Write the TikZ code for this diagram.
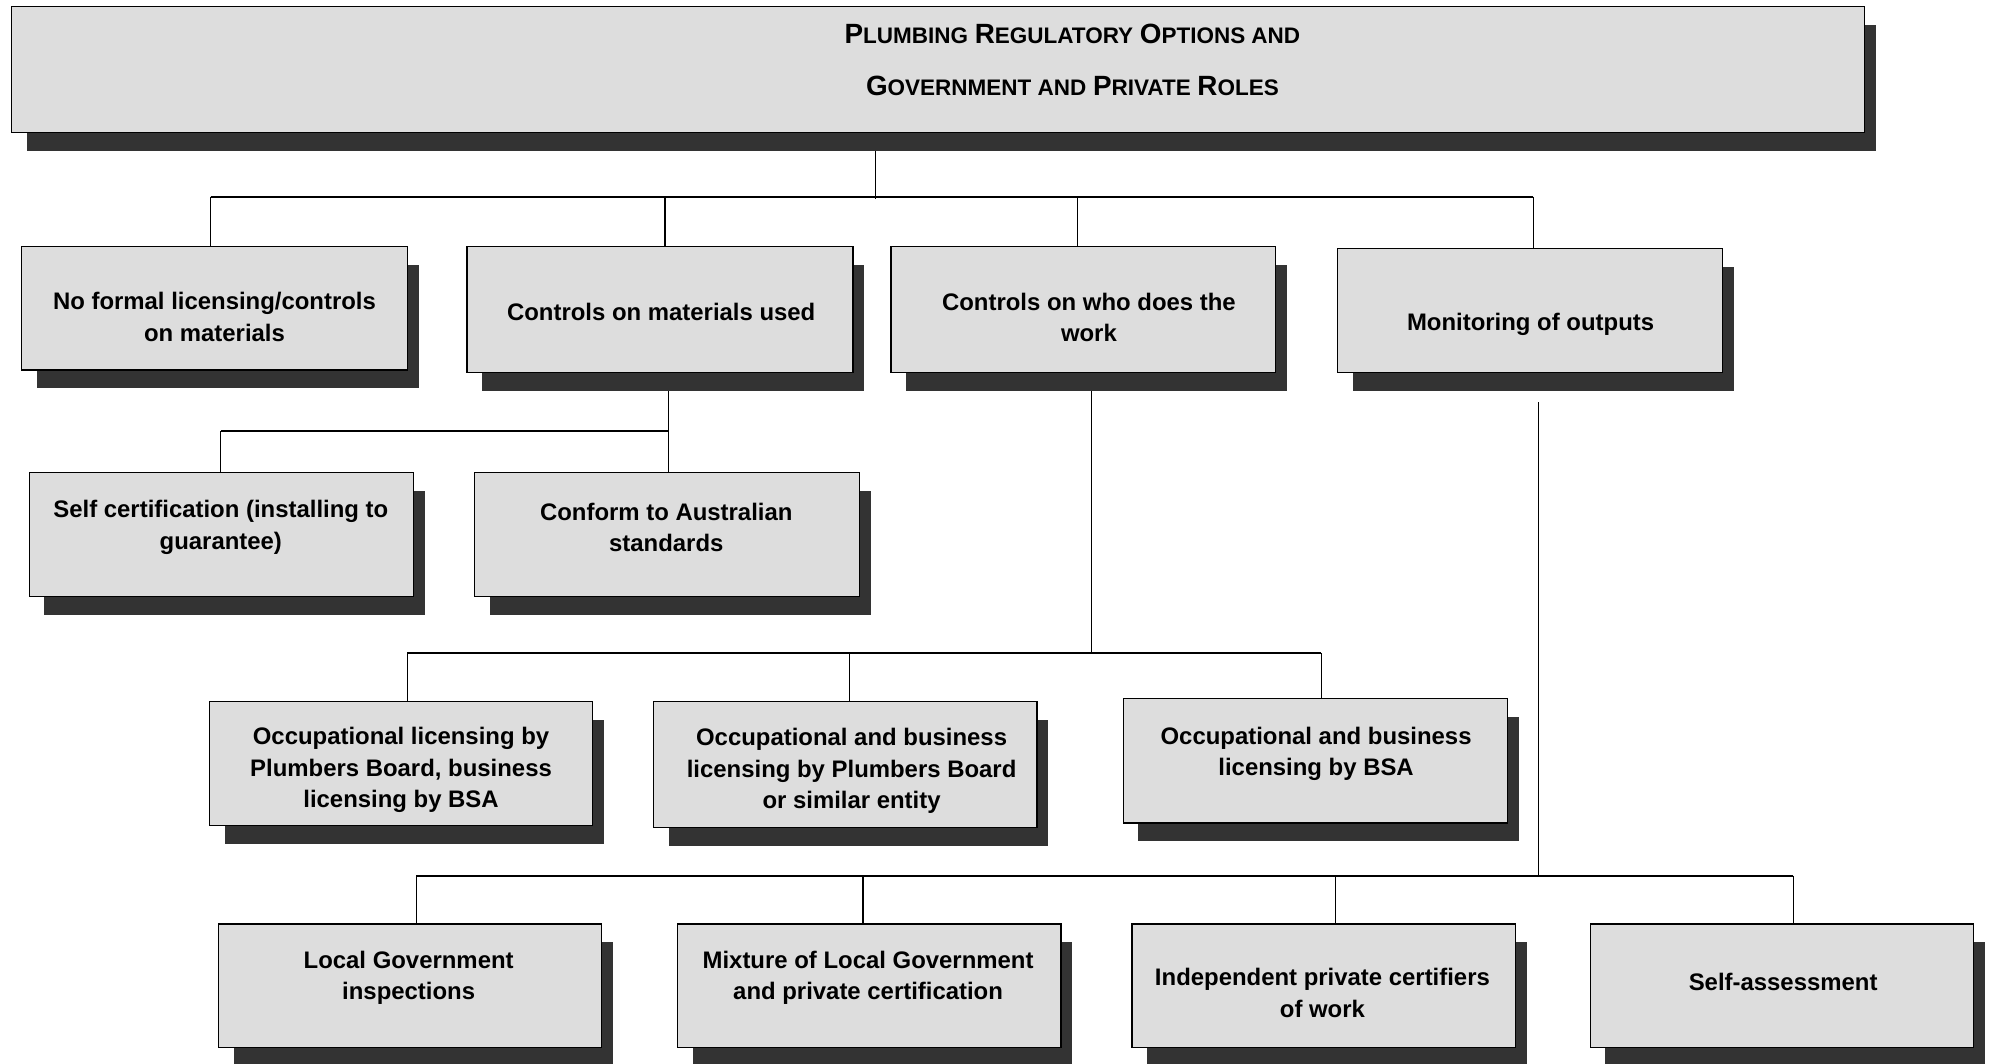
\documentclass[tikz,border=0pt]{standalone}
\usepackage{fontspec}
\setmainfont{Liberation Sans}
\usetikzlibrary{fit,calc}
\pgfdeclarelayer{bottom}
\pgfdeclarelayer{background}
\pgfsetlayers{bottom,background,main}
\definecolor{boxfill}{HTML}{DDDDDD}
\definecolor{shadowc}{HTML}{333333}
\tikzset{
  box/.style={draw=black, line width=0.75pt, fill=boxfill, inner sep=0pt},
  lbl/.style={font=\fontsize{13.4}{17.7}\selectfont\bfseries, align=center, inner sep=0pt},
  ttl/.style={font=\fontsize{13.5}{17.7}\selectfont\bfseries, inner sep=0pt},
  conn/.style={line width=0.6pt},
  bus/.style={line width=1.0pt},
}
\newcommand\mkbox[5]{%
  \fill[shadowc] (#2+12,#3+14.5) rectangle (#4+9,#5+14.5);
  \node[box, fit={(#2,#3)(#4,#5)}] (#1) {};
}
\newcommand\bigc[1]{{\fontsize{15.6}{18}\selectfont #1}}
\newcommand\smc[1]{{\fontsize{12.6}{18}\selectfont #1}}
\begin{document}
\begin{tikzpicture}[x=0.025cm,y=-0.025cm]
\useasboundingbox (0,0) rectangle (1568,838);
\begin{pgfonlayer}{bottom}
  \fill[white] (0,0) rectangle (1568,838);
\end{pgfonlayer}

% boxes
\mkbox{n0}{9}{5.3}{1469}{104.6}
\mkbox{n1}{17}{194.4}{321}{291.6}
\mkbox{n2}{368}{194.4}{672}{293.7}
\mkbox{n3}{702}{194.4}{1005}{293.7}
\mkbox{n4}{1054}{195.7}{1357}{293.7}
\mkbox{m1}{23}{372.5}{326}{470}
\mkbox{m2}{374}{372.5}{677}{470}
\mkbox{c1}{165}{552.5}{467}{650.2}
\mkbox{c2}{515}{552.5}{817}{652}
\mkbox{c3}{885}{550.5}{1188}{648.5}
\mkbox{d1}{172}{728}{474}{825.2}
\mkbox{d2}{534}{728}{836}{825.2}
\mkbox{d3}{892}{728}{1194}{825.2}
\mkbox{d4}{1253}{728}{1555}{825.2}

% texts
\node[ttl] (t0a) at (845,27) {\bigc{P}\smc{LUMBING} \bigc{R}\smc{EGULATORY} \bigc{O}\smc{PTIONS AND}};
\node[ttl] (t0b) at (845,68) {\bigc{G}\smc{OVERNMENT AND} \bigc{P}\smc{RIVATE} \bigc{R}\smc{OLES}};
\node[lbl] (t1) at (169,249.5) {No formal licensing/controls\\on materials};
\node[lbl] (t2) at (521,246) {Controls on materials used};
\node[lbl] (t3) at (858,250) {Controls on who does the\\work};
\node[lbl] (t4) at (1206,255.5) {Monitoring of outputs};
\node[lbl] (tm1) at (174,415.5) {Self certification (installing to\\guarantee)};
\node[lbl] (tm2) at (525,415.5) {Conform to Australian\\standards};
\node[lbl] (tc1) at (316,606.9) {Occupational licensing by\\Plumbers Board, business\\licensing by BSA};
\node[lbl] (tc2) at (671,607.5) {Occupational and business\\licensing by Plumbers Board\\or similar entity};
\node[lbl] (tc3) at (1037,594) {Occupational and business\\licensing by BSA};
\node[lbl] (td1) at (322,770.5) {Local Government\\inspections};
\node[lbl] (td2) at (684,770.5) {Mixture of Local Government\\and private certification};
\node[lbl] (td3) at (1042,782.5) {Independent private certifiers\\of work};
\node[lbl] (td4) at (1405,773.5) {Self-assessment};

% bus coordinates
\coordinate (b0) at (690,155);
\coordinate (b1) at (166,155);
\coordinate (b2) at (524,155);
\coordinate (b3) at (849,155);
\coordinate (b4) at (1208,155);
\coordinate (e1) at (174,339.5);
\coordinate (e2) at (527,339.5);
\coordinate (g0) at (860,514.5);
\coordinate (g1) at (321,514.5);
\coordinate (g2) at (669,514.5);
\coordinate (g3) at (1041,514.5);
\coordinate (f0) at (1212,317);
\coordinate (h0) at (1212,690);
\coordinate (h1) at (328,690);
\coordinate (h2) at (680,690);
\coordinate (h3) at (1052,690);
\coordinate (h4) at (1413,690);

\begin{pgfonlayer}{background}
  % level 1
  \draw[conn] (n0.south -| b0) -- ($(b0)+(0,2)$);
  \draw[bus] (b1) -- (b4);
  \draw[conn] (b1) -- (b1 |- n1.north);
  \draw[conn] (b2) -- (b2 |- n2.north);
  \draw[conn] (b3) -- (b3 |- n3.north);
  \draw[conn] (b4) -- (b4 |- n4.north);
  % level 2
  \draw[conn] (n2.south -| e2) -- ($(e2 |- m2.north)+(0,2)$);
  \draw[bus] (e1) -- (e2);
  \draw[conn] (e1) -- (e1 |- m1.north);
  % level 3
  \draw[conn] (n3.south -| g0) -- (g0);
  \draw[bus] (g1) -- (g3);
  \draw[conn] (g1) -- (g1 |- c1.north);
  \draw[conn] (g2) -- (g2 |- c2.north);
  \draw[conn] (g3) -- (g3 |- c3.north);
  % level 4
  \draw[conn] (f0) -- (h0);
  \draw[bus] (h1) -- (h4);
  \draw[conn] (h1) -- (h1 |- d1.north);
  \draw[conn] (h2) -- (h2 |- d2.north);
  \draw[conn] (h3) -- (h3 |- d3.north);
  \draw[conn] (h4) -- (h4 |- d4.north);
\end{pgfonlayer}
\end{tikzpicture}
\end{document}
